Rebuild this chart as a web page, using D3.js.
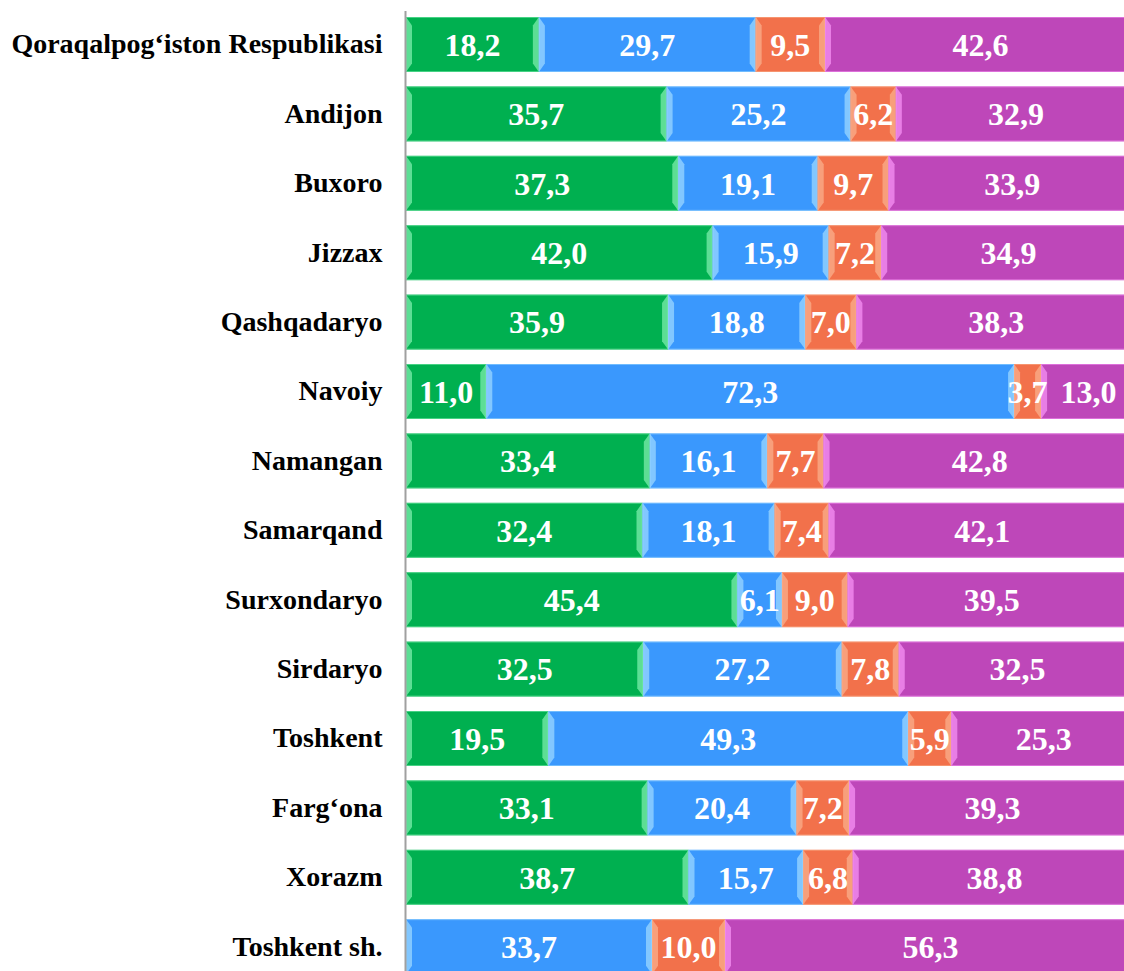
<!DOCTYPE html>
<html>
<head>
<meta charset="utf-8">
<script src="https://cdn.jsdelivr.net/npm/d3@7"></script>
<style>
  html, body { margin: 0; padding: 0; background: #fff; }
  svg { display: block; }
</style>
</head>
<body>
<div class="container"></div>
<script>
const regions = ['Qoraqalpog‘iston Respublikasi', 'Andijon', 'Buxoro', 'Jizzax', 'Qashqadaryo', 'Navoiy',
    'Namangan', 'Samarqand', 'Surxondaryo', 'Sirdaryo', 'Toshkent', 'Farg‘ona', 'Xorazm', 'Toshkent sh.'];
const greenVals  = [18.2, 35.7, 37.3, 42.0, 35.9, 11.0, 33.4, 32.4, 45.4, 32.5, 19.5, 33.1, 38.7, 0];
const blueVals   = [29.7, 25.2, 19.1, 15.9, 18.8, 72.3, 16.1, 18.1, 6.1, 27.2, 49.3, 20.4, 15.7, 33.7];
const orangeVals = [9.5, 6.2, 9.7, 7.2, 7.0, 3.7, 7.7, 7.4, 9.0, 7.8, 5.9, 7.2, 6.8, 10.0];
const purpleVals = [42.6, 32.9, 33.9, 34.9, 38.3, 13.0, 42.8, 42.1, 39.5, 32.5, 25.3, 39.3, 38.8, 56.3];

const seriesKeys = ['green', 'blue', 'orange', 'purple'];
const fills  = {green: '#00b050', blue: '#3a98fd', orange: '#f2714b', purple: '#be47b9'};
const lights = {green: '#74eaa6', blue: '#95d3ff', orange: '#f9ab87', purple: '#f28cf0'};

const width = 1124, height = 971,
    margin = {left: 406};

const rows = regions.map((r, i) => ({
    region: r, green: greenVals[i], blue: blueVals[i], orange: orangeVals[i], purple: purpleVals[i]
}));

const stack = d3.stack().keys(seriesKeys)(rows);

const xScale = d3.scaleLinear()
    .domain([0, 100])
    .range([margin.left, margin.left + 730]);

const yScale = d3.scaleBand()
    .domain(regions)
    .range([9.8, 9.8 + 14 * 69.4])
    .paddingInner(0.2075)
    .paddingOuter(0.10375);

const svg = d3.select('.container')
    .append('svg')
    .attr('width', width)
    .attr('height', height);

const bh = yScale.bandwidth(), bev = 6;

stack.forEach(layer => {
    const key = layer.key;
    const g = svg.append('g');
    layer.forEach(d => {
        const x0 = xScale(d[0]), x1 = xScale(d[1]), y = yScale(d.data.region);
        if (x1 - x0 <= 0) return;
        const seg = g.append('g');
        seg.append('rect')
            .attr('x', x0).attr('y', y)
            .attr('width', x1 - x0).attr('height', bh)
            .attr('fill', fills[key]);
        // bevel edges
        const b = Math.min(bev, (x1 - x0) / 3);
        seg.append('polygon')
            .attr('points', [[x0, y], [x0 + b, y + b * 1.4], [x0 + b, y + bh - b * 1.4], [x0, y + bh]].join(' '))
            .attr('fill', lights[key]).attr('opacity', 0.8);
        seg.append('polygon')
            .attr('points', [[x1, y], [x1 - b, y + b * 1.4], [x1 - b, y + bh - b * 1.4], [x1, y + bh]].join(' '))
            .attr('fill', lights[key]).attr('opacity', 0.8);
        seg.append('rect')
            .attr('x', x0 + 0.5).attr('y', y + 0.5)
            .attr('width', x1 - x0 - 1).attr('height', bh - 1)
            .attr('fill', 'none')
            .attr('stroke', lights[key]).attr('stroke-opacity', 0.6).attr('stroke-width', 1);
    });
});

// value labels
stack.forEach(layer => {
    layer.forEach(d => {
        const v = d[1] - d[0];
        if (v <= 0) return;
        svg.append('text')
            .attr('x', xScale((d[0] + d[1]) / 2))
            .attr('y', yScale(d.data.region) + bh / 2)
            .attr('dy', '0.35em')
            .attr('text-anchor', 'middle')
            .attr('font-family', '"Liberation Serif", "Times New Roman", serif')
            .attr('font-weight', 'bold')
            .attr('font-size', 32)
            .attr('fill', '#fff')
            .text(d3.format('.1f')(v).replace('.', ','));
    });
});

// category axis
const yAxis = d3.axisLeft(yScale).tickSize(0).tickPadding(23);
const axisG = svg.append('g')
    .attr('transform', `translate(${margin.left - 0.5}, 0)`)
    .call(yAxis);
axisG.select('.domain')
    .attr('d', `M0,11V${height}`)
    .attr('stroke', '#a0a0a0').attr('stroke-width', 2);
axisG.selectAll('text')
    .attr('font-family', '"Liberation Serif", "Times New Roman", serif')
    .attr('font-weight', 'bold')
    .attr('font-size', 28)
    .attr('fill', '#000');
</script>
</body>
</html>
